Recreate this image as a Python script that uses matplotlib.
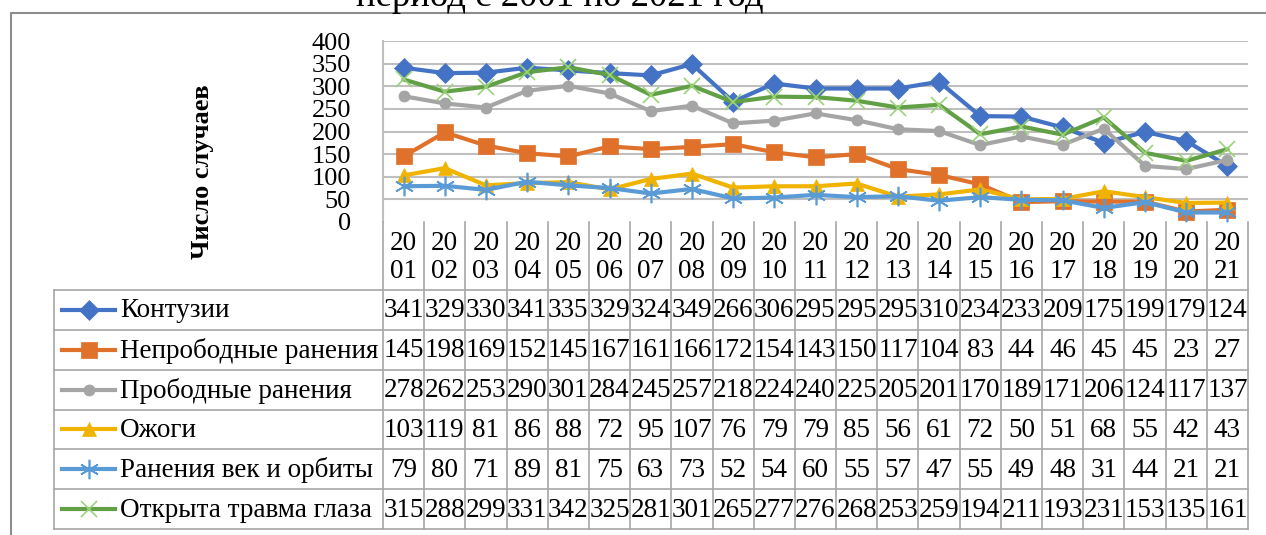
import matplotlib
matplotlib.use("Agg")
import matplotlib.pyplot as plt
from matplotlib.lines import Line2D

FAM = ['Liberation Serif', 'DejaVu Serif']
plt.rcParams['font.family'] = 'serif'
plt.rcParams['font.serif'] = ['Liberation Serif', 'DejaVu Serif']

years = ["2001", "2002", "2003", "2004", "2005", "2006", "2007", "2008", "2009", "2010", "2011",
         "2012", "2013", "2014", "2015", "2016", "2017", "2018", "2019", "2020", "2021"]
series_names = ["Контузии", "Непрободные ранения", "Прободные ранения", "Ожоги",
                "Ранения век и орбиты", "Открыта травма глаза"]
kontuzii = [341, 329, 330, 341, 335, 329, 324, 349, 266, 306, 295, 295, 295, 310, 234, 233, 209, 175, 199, 179, 124]
neprobodnye = [145, 198, 169, 152, 145, 167, 161, 166, 172, 154, 143, 150, 117, 104, 83, 44, 46, 45, 45, 23, 27]
probodnye = [278, 262, 253, 290, 301, 284, 245, 257, 218, 224, 240, 225, 205, 201, 170, 189, 171, 206, 124, 117, 137]
ozhogi = [103, 119, 81, 86, 88, 72, 95, 107, 76, 79, 79, 85, 56, 61, 72, 50, 51, 68, 55, 42, 43]
veki_orbity = [79, 80, 71, 89, 81, 75, 63, 73, 52, 54, 60, 55, 57, 47, 55, 49, 48, 31, 44, 21, 21]
otkrytaya = [315, 288, 299, 331, 342, 325, 281, 301, 265, 277, 276, 268, 253, 259, 194, 211, 193, 231, 153, 135, 161]
y_ticks = [0, 50, 100, 150, 200, 250, 300, 350, 400]

all_series = [kontuzii, neprobodnye, probodnye, ozhogi, veki_orbity, otkrytaya]
line_colors = ["#4472C4", "#E0712B", "#A5A5A5", "#F0B400", "#5B9BD5", "#62A046"]
marker_face = ["#4472C4", "#E0712B", "#A5A5A5", "#F0B400", "#5B9BD5", "#9BD37A"]
markers = ["D", "s", "o", "^", (6, 2, 0), "x"]
msizes = [10, 12, 8, 10, 14, 12]

W, H = 1266, 535
fig = plt.figure(figsize=(W / 100, H / 100), dpi=100)

def fx(px):
    return px / W

def fy(py):
    return 1 - py / H

L, R, T, B = 383, 1248, 41, 222
ax = fig.add_axes([fx(L), fy(B), fx(R) - fx(L), fy(T) - fy(B)])
x = list(range(len(years)))
for i, vals in enumerate(all_series):
    m = markers[i]
    star = m in [(6, 2, 0), "x"]
    ax.plot(x, vals, color=line_colors[i], lw=3.0, marker=m, ms=msizes[i],
            mfc=marker_face[i], mec=marker_face[i], mew=1.2 if star else 0.5, zorder=3 + i)
ax.set_xlim(-0.5, len(years) - 0.5)
ax.set_ylim(0, 400)
ax.set_yticks(y_ticks)
ax.set_yticklabels([str(t) for t in y_ticks], fontsize=19, family=FAM)
ax.tick_params(axis='y', length=0, pad=23)
ax.set_xticks([])
for t in y_ticks[1:]:
    ax.axhline(t, color="#BFBFBF", lw=1.5, zorder=1)
for s in ["top", "right", "bottom"]:
    ax.spines[s].set_visible(False)
ax.spines["left"].set_color("#BFBFBF")
ax.spines["left"].set_linewidth(1.5)
ax.text(fx(202), fy(172), "Число случаев", transform=fig.transFigure, rotation=90,
        ha='center', va='center', fontsize=19, fontweight='bold', family=FAM)

tab = fig.add_axes([0, 0, 1, 1], facecolor='none')
tab.set_xlim(0, W)
tab.set_ylim(H, 0)
tab.axis('off')
gc = "#A6A6A6"
colw = (R - L) / len(years)
row_top = 290
row_bot = 529
row_h = (row_bot - row_top) / len(series_names)
tbl_left = 54

for j in range(len(years) + 1):
    xx = L + j * colw
    tab.plot([xx, xx], [B, row_bot], color=gc, lw=1.2)
for j, yr in enumerate(years):
    cx = L + (j + 0.5) * colw
    tab.text(cx, 243, yr[:2], ha='center', va='center', fontsize=19.5, family=FAM)
    tab.text(cx, 271, yr[2:], ha='center', va='center', fontsize=19.5, family=FAM)
tab.plot([tbl_left, tbl_left], [row_top, row_bot], color=gc, lw=1.2)
for k in range(len(series_names) + 1):
    yy = row_top + k * row_h
    tab.plot([tbl_left, R], [yy, yy], color=gc, lw=1.2)
for k, name in enumerate(series_names):
    cy = row_top + (k + 0.5) * row_h
    tab.add_line(Line2D([62, 115], [cy, cy], color=line_colors[k], lw=3.0))
    m = markers[k]
    star = m in [(6, 2, 0), "x"]
    tab.plot([88.5], [cy], marker=m, ms=msizes[k], mfc=marker_face[k], mec=marker_face[k],
             mew=1.2 if star else 0.5, ls='none')
    tab.text(120, cy + 1, name, ha='left', va='center', fontsize=19.5, family=FAM)
    for j, v in enumerate(all_series[k]):
        cx = L + (j + 0.5) * colw
        tab.text(cx, cy + 1, str(v), ha='center', va='center', fontsize=19.5, family=FAM)

tab.plot([11, 11, W + 5], [H + 5, 13, 13], color="#8C8C8C", lw=1.5, clip_on=False)

fig.text(fx(560), fy(6), "период с 2001 по 2021 год", ha='center', va='baseline',
         fontsize=26.5, family=FAM)

fig.savefig("out.png", dpi=100)
